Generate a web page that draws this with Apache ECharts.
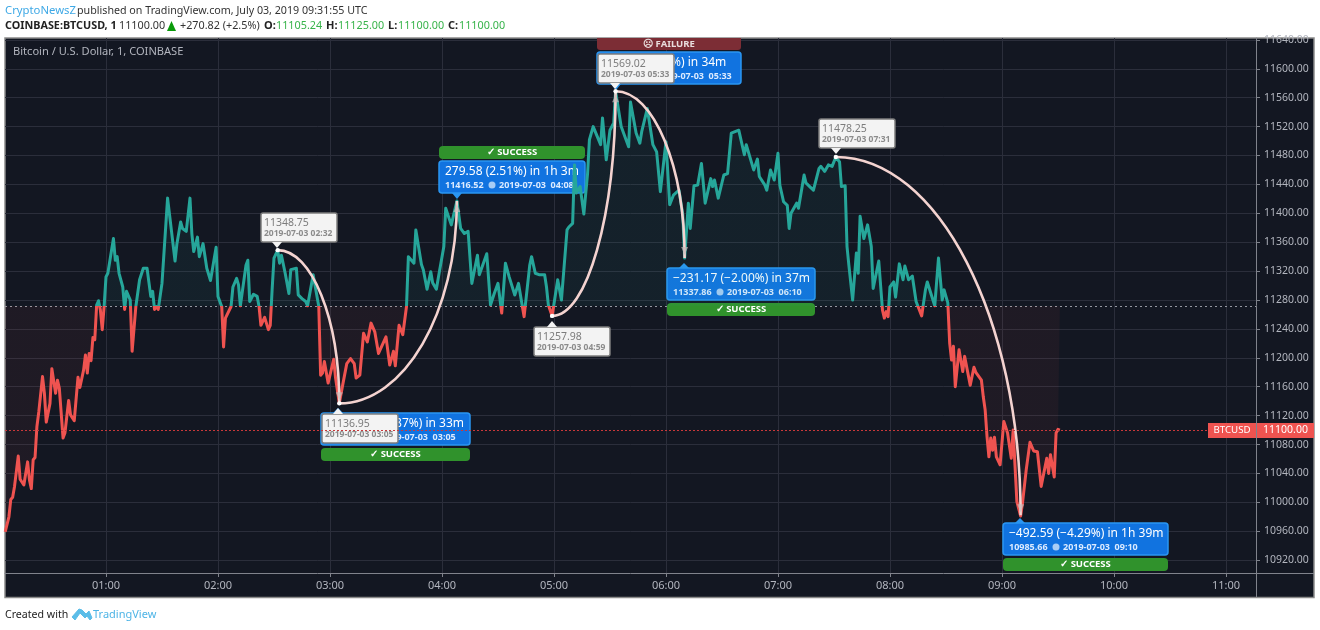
<!DOCTYPE html>
<html>
<head>
<meta charset="utf-8">
<title>BTCUSD</title>
<style>
html, body { margin: 0; padding: 0; background: #fff; }
#main { width: 1320px; height: 630px; }
</style>
<script src="https://cdn.jsdelivr.net/npm/echarts@6/dist/echarts.min.js"></script>
</head>
<body>
<div id="main"></div>
<script>
// minutes since 00:00 UTC, one reading per turning point of the line
var priceMinutes = [6,7,8,9,10,11,13,14,15,16,18,19,20,21,22,23,24,25,26,27,28,30,31,33,34,35,37,38,40,41,43,45,46,48,49,50,51,52,53,54,55,56,57,58,59,60,61,64,65,66,67,69,70,71,73,74,76,78,80,82,84,85,86,87,88,90,93,94,95,97,98,100,101,103,105,106,107,109,110,112,114,116,119,120,122,123,124,127,128,130,131,132,133,135,136,137,139,141,142,143,145,147,148,149,150,152,153,154,156,158,159,162,163,165,167,168,171,174,175,176,177,179,182,183,185,187,189,191,193,194,196,198,200,202,204,206,210,212,214,215,217,219,221,222,225,226,229,230,232,234,235,237,238,239,241,242,245,246,248,250,251,252,254,256,259,260,264,266,268,270,272,274,276,279,281,284,287,288,290,292,295,296,297,299,302,304,307,308,310,311,312,314,316,318,319,321,322,325,326,328,330,332,333,336,340,341,344,346,347,350,353,355,357,360,362,364,367,369,370,372,373,375,377,379,381,384,385,386,388,391,393,395,396,399,402,403,407,409,410,413,414,416,418,420,421,423,425,426,427,430,431,434,435,437,439,440,442,443,445,447,449,451,453,454,456,457,458,459,460,462,463,464,466,468,470,471,474,476,477,478,479,480,482,483,485,487,488,490,492,494,497,499,500,501,504,506,508,509,511,512,513,514,515,517,519,520,523,525,526,529,530,531,532,533,534,535,536,537,539,541,543,545,546,548,550,551,553,555,557,559,561,562,564,565,566,568,569,570,571];
var priceValues = [10959,10961,10980,11004,11007,11022,11064,11032,11033,11024,11056,11031,11019,11059,11062,11105,11125,11127,11174,11151,11111,11137,11185,11151,11169,11158,11089,11096,11141,11121,11113,11173,11159,11183,11204,11179,11206,11196,11228,11225,11273,11279,11266,11239,11271,11312,11317,11365,11335,11340,11317,11298,11267,11292,11280,11209,11271,11308,11324,11324,11285,11292,11267,11271,11267,11303,11421,11399,11400,11334,11358,11388,11379,11375,11421,11372,11347,11367,11340,11358,11324,11307,11353,11285,11271,11215,11255,11271,11298,11310,11301,11272,11272,11328,11335,11278,11288,11285,11271,11245,11256,11239,11245,11294,11338,11349,11331,11342,11317,11289,11322,11324,11287,11282,11278,11272,11315,11271,11176,11179,11195,11165,11198,11172,11137,11165,11192,11199,11192,11172,11176,11234,11222,11248,11236,11206,11229,11190,11209,11189,11245,11232,11271,11340,11331,11377,11329,11322,11295,11319,11304,11295,11310,11312,11354,11407,11384,11395,11417,11379,11381,11372,11375,11303,11342,11315,11344,11273,11289,11303,11262,11331,11312,11287,11303,11257,11328,11340,11317,11315,11315,11298,11273,11258,11308,11280,11377,11381,11386,11467,11428,11437,11399,11455,11502,11520,11520,11495,11532,11474,11515,11525,11569,11520,11492,11554,11511,11497,11513,11545,11495,11485,11430,11499,11412,11425,11432,11398,11338,11414,11379,11438,11439,11469,11414,11448,11437,11446,11421,11453,11455,11511,11513,11515,11481,11495,11460,11475,11451,11439,11432,11460,11446,11483,11439,11416,11411,11379,11400,11414,11407,11453,11442,11437,11432,11442,11462,11465,11458,11467,11465,11478,11471,11437,11438,11354,11328,11326,11280,11345,11317,11396,11365,11384,11354,11296,11334,11266,11255,11264,11257,11298,11305,11284,11330,11308,11327,11308,11313,11278,11258,11294,11305,11305,11272,11338,11280,11294,11276,11220,11197,11216,11160,11211,11181,11202,11162,11187,11180,11169,11146,11128,11091,11063,11089,11072,11090,11063,11052,11112,11096,11061,11100,11001,10981,10999,11045,11083,11071,11070,11022,11024,11061,11040,11066,11035,11096,11101,11100];

var yTickValues = [10920,10960,11000,11040,11080,11120,11160,11200,11240,11280,11320,11360,11400,11440,11480,11520,11560,11600,11640];
var xTickValues = [60,120,180,240,300,360,420,480,540,600,660];

var baselineValue = 11272;
var lastPrice = 11100;

// swing arcs of the pattern drawing
var arcStartMinutes = [152,185,299,333,451];
var arcStartValues = [11349,11137,11258,11569,11478];
var arcEndMinutes = [185,248,333,370,550];
var arcEndValues = [11137,11417,11569,11338,10982];

var GREEN = '#26a69a', RED = '#ef5350', FONT = '"Noto Sans", sans-serif';
var Y_MIN = 10902.2, Y_MAX = 11642.6;
var GRID_TOP = 38, GRID_H = 535;

var myChart = echarts.init(document.getElementById('main'));

function label(x, y, text, fill, font, align, z) {
    return { type: 'text', z: z || 1, silent: true, style: { x: x, y: y, text: text, fill: fill, font: font + ' ' + FONT, align: align || 'left', verticalAlign: 'middle' } };
}
function box(x, y, w, h, fill, r, z, stroke) {
    return { type: 'rect', z: z || 1, silent: true, shape: { x: x, y: y, width: w, height: h, r: r === undefined ? 3 : r }, style: { fill: fill, stroke: stroke || null, lineWidth: stroke ? 1.5 : 0 } };
}
function tri(p1, p2, p3, fill, z) {
    return { type: 'polygon', z: z || 1, silent: true, shape: { points: [p1, p2, p3] }, style: { fill: fill } };
}
// white price/time tag
function tag(x, y, text, date, px, down) {
    var h = 29, w = 76, tipY = down ? y + h + 6 : y - 6, baseY = down ? y + h : y;
    return [
        box(x, y, w, h, '#f3f3f3', 2, 4, '#7d7d7d'),
        tri([px - 5, baseY], [px + 5, baseY], [px, tipY], '#f3f3f3', 4),
        label(x + 3, y + 10, text, '#7c7c7c', '10.5px', 'left', 4),
        label(x + 3, y + 21, date, '#8c8c8c', 'bold 8.5px', 'left', 4)
    ];
}
// blue result box with its status bar
function result(x, y, w, text, price, date, px, tipDown) {
    var h = 32;
    var out = [
        box(x, y, w, h, '#1173e0', 3, 1, '#2a96f2'),
        label(x + 6, y + 10.5, text, '#ffffff', '12px'),
        label(x + 6, y + 24, price, '#dcebff', 'bold 9px'),
        { type: 'circle', z: 1, silent: true, shape: { cx: x + 53, cy: y + 24, r: 3.5 }, style: { fill: '#a8cdf5' } },
        label(x + 60, y + 24, date, '#dcebff', 'bold 9px')
    ];
    if (tipDown) out.push(tri([px - 5, y + h], [px + 5, y + h], [px, y + h + 6], '#2a96f2'));
    else out.push(tri([px - 5, y], [px + 5, y], [px, y - 5], '#2a96f2'));
    return out;
}
function success(x, y, w) {
    return [
        box(x, y, w, 13, '#30922c', 4),
        label(x + w / 2, y + 6.5, '\u2713 SUCCESS', '#ffffff', 'bold 9.5px', 'center')
    ];
}

var graphics = [
    box(5, 38, 1309, 559.5, '#131722', 0, -1, '#8a8a8a'),
    { type: 'line', z: 1, silent: true, shape: { x1: 1256, y1: 573.5, x2: 1314, y2: 573.5 }, style: { stroke: '#80838c', lineWidth: 1 } },
    { type: 'line', z: 1, silent: true, shape: { x1: 1256.5, y1: 573, x2: 1256.5, y2: 597 }, style: { stroke: '#80838c', lineWidth: 1 } },

    label(5, 11, 'CryptoNewsZ', '#3fa9e6', '11.3px'),
    label(77, 11, 'published on TradingView.com, July 03, 2019 09:31:55 UTC', '#333333', '10.7px'),
    label(5, 26, 'COINBASE:BTCUSD, 1', '#222222', 'bold 10.8px'),
    label(119, 26, '11100.00', '#333333', '10.8px'),
    tri([167, 31], [176, 31], [171.5, 21], '#0a9a0a'),
    label(180, 26, '+270.82 (+2.5%)', '#333333', '10.8px'),
    label(264, 26, 'O:', '#222222', 'bold 11px'),
    label(276, 26, '11105.24', '#37b34a', '10.8px'),
    label(326, 26, 'H:', '#222222', 'bold 11px'),
    label(338, 26, '11125.00', '#37b34a', '10.8px'),
    label(388, 26, 'L:', '#222222', 'bold 11px'),
    label(398, 26, '11100.00', '#37b34a', '10.8px'),
    label(448, 26, 'C:', '#222222', 'bold 11px'),
    label(459, 26, '11100.00', '#37b34a', '10.8px'),

    label(13, 52, 'Bitcoin / U.S. Dollar, 1, COINBASE', '#b2b5be', '11.1px'),

    label(5, 615, 'Created with', '#222222', '10.6px'),
    { type: 'polygon', z: 1, silent: true, shape: { points: [[72, 617], [79, 609], [82, 610], [86, 614], [89, 611], [92, 618], [90, 620], [87, 616], [85, 618], [80, 613], [75, 620]] }, style: { fill: '#5bbde8', stroke: '#5bbde8', lineWidth: 1 } },
    label(93, 615, 'TradingView', '#4db4e6', '11px'),

    // last price on the scale
    box(1208, 423, 48, 15, RED, 0, 6),
    label(1232, 430.5, 'BTCUSD', '#ffffff', '9.7px', 'center', 6),
    box(1257, 423, 57, 15, RED, 0, 6),
    label(1285.5, 430.5, '11100.00', '#ffffff', '10.5px', 'center', 6),

    box(597, 38, 144, 12, '#7c2d35', [0, 0, 3, 3]),
    label(669, 44, '\u2639 FAILURE', '#e8dcdc', 'bold 9.5px', 'center')
].concat(
    result(321, 413, 149, '\u2212211.80 (\u22121.87%) in 33m', '11136.95', '2019-07-03  03:05', 338, false),
    success(321, 448, 149),
    result(439, 161, 146, '279.58 (2.51%) in 1h 3m', '11416.52', '2019-07-03  04:08', 457, true),
    success(439, 146, 146),
    result(597, 52, 144, '311.04 (2.76%) in 34m', '11569.02', '2019-07-03  05:33', 616, true),
    result(667, 268, 148, '\u2212231.17 (\u22122.00%) in 37m', '11337.86', '2019-07-03  06:10', 684, false),
    success(667, 303, 148),
    result(1003, 523, 165, '\u2212492.59 (\u22124.29%) in 1h 39m', '10985.66', '2019-07-03  09:10', 1020, false),
    success(1003, 558, 165),
    tag(261, 213, '11348.75', '2019-07-03 02:32', 277, true),
    tag(322, 414, '11136.95', '2019-07-03 03:05', 338, false),
    tag(598, 54, '11569.02', '2019-07-03 05:33', 615, true),
    tag(534, 327, '11257.98', '2019-07-03 04:59', 552, false),
    tag(819, 119, '11478.25', '2019-07-03 07:31', 836, true)
);

var priceData = priceMinutes.map(function (m, i) { return [m, priceValues[i]]; });
var arcData = arcStartMinutes.map(function (m, i) { return [m, arcStartValues[i], arcEndMinutes[i], arcEndValues[i]]; });

// green above the baseline, red under it; same split for line and fill
function splitGradient(upper, lower) {
    var off = (Y_MAX - baselineValue) / (Y_MAX - Y_MIN);
    return new echarts.graphic.LinearGradient(0, GRID_TOP, 0, GRID_TOP + GRID_H, [
        { offset: 0, color: upper },
        { offset: off, color: upper },
        { offset: off, color: lower },
        { offset: 1, color: lower }
    ], true);
}

function renderArc(params, api) {
    var a = api.coord([api.value(0), api.value(1)]);
    var b = api.coord([api.value(2), api.value(3)]);
    var k = 0.5523;
    var dir = b[1] > a[1] ? 1 : -1;
    return {
        type: 'group',
        children: [
            { type: 'bezierCurve', shape: { x1: a[0], y1: a[1], x2: b[0], y2: b[1], cpx1: a[0] + k * (b[0] - a[0]), cpy1: a[1], cpx2: b[0], cpy2: b[1] - k * (b[1] - a[1]) }, style: { stroke: '#f4d3d0', fill: null, lineWidth: 2.6 } },
            { type: 'polygon', shape: { points: [[b[0] - 3.5, b[1] - dir * 11], [b[0] + 3.5, b[1] - dir * 11], [b[0], b[1] - dir * 3]] }, style: { fill: '#c9bcbb', opacity: 0.7 } },
            { type: 'circle', shape: { cx: a[0], cy: a[1], r: 2.2 }, style: { fill: '#ffffff' } }
        ]
    };
}

myChart.setOption({
    animation: false,
    backgroundColor: '#ffffff',
    textStyle: { fontFamily: FONT },
    grid: { left: 5, top: GRID_TOP, width: 1251, height: GRID_H, containLabel: false, show: false },
    graphic: { elements: graphics },
    xAxis: {
        type: 'value',
        min: 5.9,
        max: 676.1,
        splitLine: { show: true, lineStyle: { color: '#2b2e3b', width: 1 } },
        axisLine: { show: true, onZero: false, lineStyle: { color: '#80838c' } },
        axisTick: { show: true, length: 4, lineStyle: { color: '#80838c' }, customValues: xTickValues },
        axisLabel: {
            color: '#b2b5be',
            fontSize: 11,
            margin: 7,
            customValues: xTickValues,
            formatter: function (v) {
                var h = Math.floor(v / 60);
                return (h < 10 ? '0' : '') + h + ':00';
            }
        }
    },
    yAxis: {
        type: 'value',
        position: 'right',
        min: Y_MIN,
        max: Y_MAX,
        splitLine: { show: true, lineStyle: { color: '#2b2e3b', width: 1 } },
        axisLine: { show: true, onZero: false, lineStyle: { color: '#80838c' } },
        axisTick: { show: true, length: 4, lineStyle: { color: '#80838c' }, customValues: yTickValues },
        axisLabel: {
            color: '#b2b5be',
            fontSize: 10.5,
            margin: 8,
            customValues: yTickValues,
            formatter: function (v) { return v.toFixed(2); }
        }
    },
    series: [
        {
            name: 'BTCUSD',
            type: 'line',
            z: 2,
            data: priceData,
            symbol: 'none',
            lineStyle: { width: 3, join: 'round', color: splitGradient(GREEN, RED) },
            areaStyle: { origin: baselineValue, opacity: 1, color: splitGradient('rgba(38,166,154,0.07)', 'rgba(239,83,80,0.055)') },
            markLine: {
                silent: true,
                symbol: 'none',
                z: 0,
                label: { show: false },
                lineStyle: { color: '#9598a1', type: [2, 3], width: 1 },
                data: [{ yAxis: baselineValue }]
            }
        },
        {
            name: 'arcs',
            type: 'custom',
            z: 3,
            silent: true,
            renderItem: renderArc,
            data: arcData
        },
        {
            name: 'last',
            type: 'line',
            data: [],
            symbol: 'none',
            markLine: {
                silent: true,
                symbol: 'none',
                z: 5,
                label: { show: false },
                lineStyle: { color: '#c9383a', type: [2, 2], width: 1 },
                data: [{ yAxis: lastPrice }]
            }
        }
    ]
});
</script>
</body>
</html>
